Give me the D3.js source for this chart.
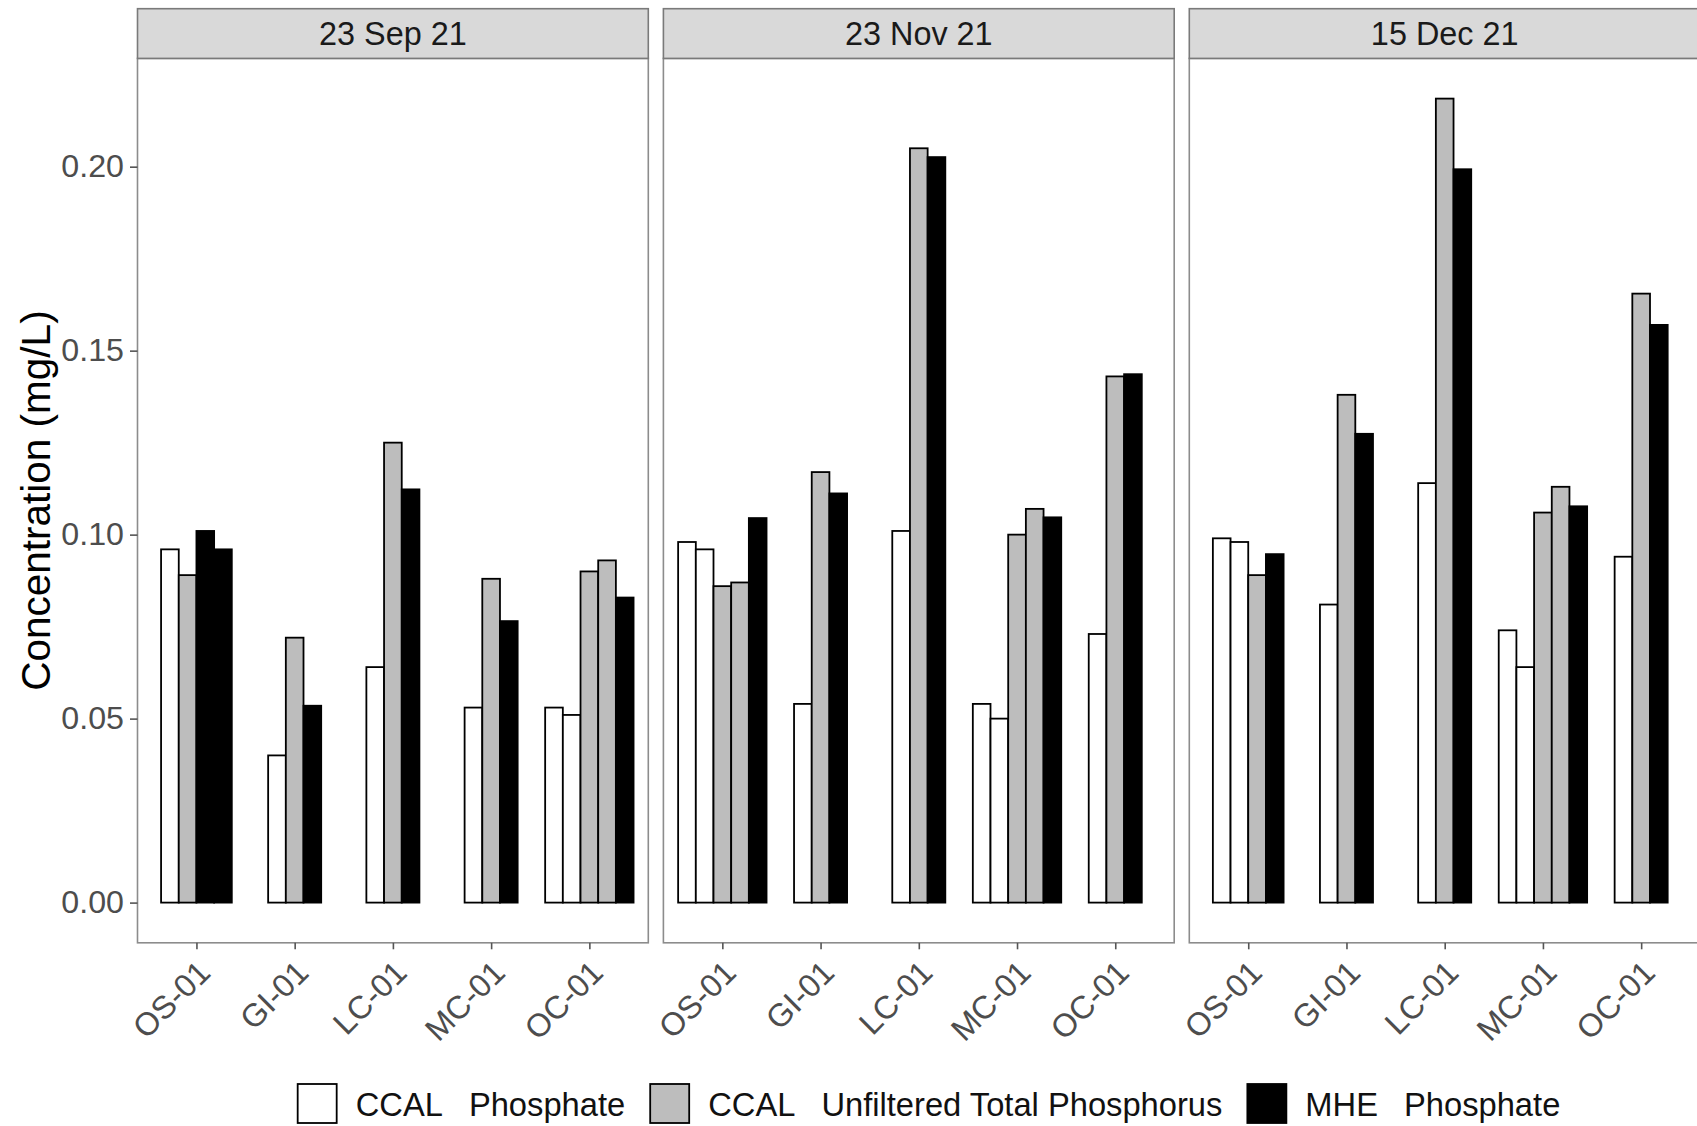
<!DOCTYPE html>
<html>
<head>
<meta charset="utf-8">
<script src="https://cdn.jsdelivr.net/npm/d3@7"></script>
<style>
  body { margin: 0; background: #ffffff; }
  svg { display: block; }
  text { font-family: "Liberation Sans", Arial, Helvetica, sans-serif; }
</style>
</head>
<body>
<svg id="chart" width="1697" height="1126"></svg>
<script>
// ---------------- data ----------------
const dates = ["23 Sep 21", "23 Nov 21", "15 Dec 21"];
const sites = ["OS-01", "GI-01", "LC-01", "MC-01", "OC-01"];
const seriesNames = ["CCAL Phosphate", "CCAL Unfiltered Total Phosphorus", "MHE Phosphate"];
const yTickValues = [0.00, 0.05, 0.10, 0.15, 0.20];

// replicate measurements (mg/L): one row per date, one list per site
const ccalPhosphate = [
  [[0.096], [0.040], [0.064], [0.053], [0.053, 0.051]],
  [[0.098, 0.096], [0.054], [0.101], [0.054, 0.050], [0.073]],
  [[0.099, 0.098], [0.081], [0.114], [0.074, 0.064], [0.094]]
];
const ccalTotalPhosphorus = [
  [[0.089], [0.072], [0.125], [0.088], [0.090, 0.093]],
  [[0.086, 0.087], [0.117], [0.205], [0.100, 0.107], [0.143]],
  [[0.089], [0.138], [0.2185], [0.106, 0.113], [0.1655]]
];
const mhePhosphate = [
  [[0.101, 0.096], [0.0535], [0.1123], [0.0765], [0.0829]],
  [[0.1045], [0.1112], [0.2026], [0.1047], [0.1436]],
  [[0.0947], [0.1274], [0.1993], [0.1077], [0.1570]]
];

// ---------------- styles / layout ----------------
const seriesData = [ccalPhosphate, ccalTotalPhosphorus, mhePhosphate];
const seriesFill = ["#ffffff", "#bdbdbd", "#000000"];

const W = 1697, H = 1126;
const panelLeft = 137.5, panelW = 510.8, panelGap = 15.1;
const stripTop = 8.7, plotTop = 58.4, plotBottom = 942.8;
const axisFont = 32.2, stripFont = 32.4, legendFont = 32.7, titleFont = 40.5;

const svg = d3.select("#chart");
svg.append("rect").attr("width", W).attr("height", H).attr("fill", "#ffffff");

const maxV = d3.max(seriesData.flat(3));
const y = d3.scaleLinear()
  .domain([-0.05 * maxV, 1.05 * maxV])
  .range([plotBottom, plotTop]);

const x = d3.scalePoint().domain(sites).range([0, panelW]).padding(0.6);
const nMax = d3.max(dates.map((d, di) =>
  d3.max(sites.map((s, si) => d3.sum(seriesData.map(sd => sd[di][si].length))))));
const barW = x.step() * 0.9 / nMax;

dates.forEach((date, di) => {
  const px = panelLeft + di * (panelW + panelGap);
  const g = svg.append("g").attr("transform", `translate(${px},0)`);

  // bars
  const bars = [];
  sites.forEach((site, si) => {
    const list = [];
    seriesData.forEach((sd, k) => sd[di][si].forEach(v => list.push({ k, v })));
    const start = x(site) - list.length * barW / 2;
    list.forEach((b, i) => bars.push({ site, k: b.k, v: b.v, x0: start + i * barW }));
  });

  g.selectAll("rect.bar").data(bars).enter().append("rect")
    .attr("class", "bar")
    .attr("x", d => d.x0)
    .attr("width", barW)
    .attr("y", d => y(d.v))
    .attr("height", d => y(0) - y(d.v))
    .attr("fill", d => seriesFill[d.k])
    .attr("stroke", "#000000")
    .attr("stroke-width", 1.8);

  // panel border
  g.append("rect")
    .attr("x", 0).attr("y", plotTop)
    .attr("width", panelW).attr("height", plotBottom - plotTop)
    .attr("fill", "none").attr("stroke", "#8c8c8c").attr("stroke-width", 1.6);

  // strip
  g.append("rect")
    .attr("x", 0).attr("y", stripTop)
    .attr("width", panelW).attr("height", plotTop - stripTop)
    .attr("fill", "#d9d9d9").attr("stroke", "#7a7a7a").attr("stroke-width", 1.6);
  g.append("text")
    .attr("x", panelW / 2).attr("y", 44.8)
    .attr("text-anchor", "middle")
    .attr("font-size", stripFont)
    .attr("fill", "#1a1a1a")
    .text(date);

  // x axis
  const xa = g.append("g").attr("transform", `translate(0,${plotBottom})`)
    .call(d3.axisBottom(x).tickSize(6.5).tickPadding(7));
  xa.select(".domain").remove();
  xa.selectAll(".tick line").attr("stroke", "#555555").attr("stroke-width", 1.6);
  xa.selectAll(".tick text")
    .attr("font-size", axisFont)
    .attr("font-family", null)
    .attr("fill", "#4d4d4d")
    .attr("text-anchor", "end")
    .attr("x", -1).attr("y", 15.5).attr("dy", "0.71em")
    .attr("transform", "rotate(-45, -1, 15.5)");

  // y axis only on the first panel
  if (di === 0) {
    const ya = g.append("g")
      .call(d3.axisLeft(y).tickValues(yTickValues).tickFormat(d3.format(".2f"))
        .tickSize(7.5).tickPadding(6));
    ya.select(".domain").remove();
    ya.selectAll(".tick line").attr("stroke", "#555555").attr("stroke-width", 1.6);
    ya.selectAll(".tick text")
      .attr("font-size", axisFont)
      .attr("font-family", null)
      .attr("fill", "#4d4d4d");
  }
});

// y title
svg.append("text")
  .attr("transform", `translate(49.5,${(plotTop + plotBottom) / 2}) rotate(-90)`)
  .attr("text-anchor", "middle")
  .attr("font-size", titleFont)
  .attr("fill", "#000000")
  .text("Concentration (mg/L)");

// legend
const keySize = 39, keyTextGap = 19, itemGap = 25, wordGap = 26;
const legendCenter = 929, keyTop = 1084, legendBaseline = 1115.5;
const lg = svg.append("g");
const items = seriesNames.map((name, k) => {
  const ig = lg.append("g");
  ig.append("rect")
    .attr("x", 0).attr("y", keyTop)
    .attr("width", keySize).attr("height", keySize)
    .attr("fill", seriesFill[k]).attr("stroke", "#000000").attr("stroke-width", 1.8);
  const words = name.split(" ");
  const t = ig.append("text")
    .attr("x", keySize + keyTextGap).attr("y", legendBaseline)
    .attr("font-size", legendFont).attr("fill", "#111111");
  t.append("tspan").text(words[0]);
  t.append("tspan").attr("dx", wordGap).text(words.slice(1).join(" "));
  const w = keySize + keyTextGap + t.node().getComputedTextLength() + wordGap;
  return { ig, w };
});
const total = d3.sum(items, d => d.w) + itemGap * (items.length - 1);
let cx = legendCenter - total / 2;
items.forEach(it => {
  it.ig.attr("transform", `translate(${cx},0)`);
  cx += it.w + itemGap;
});
</script>
</body>
</html>
